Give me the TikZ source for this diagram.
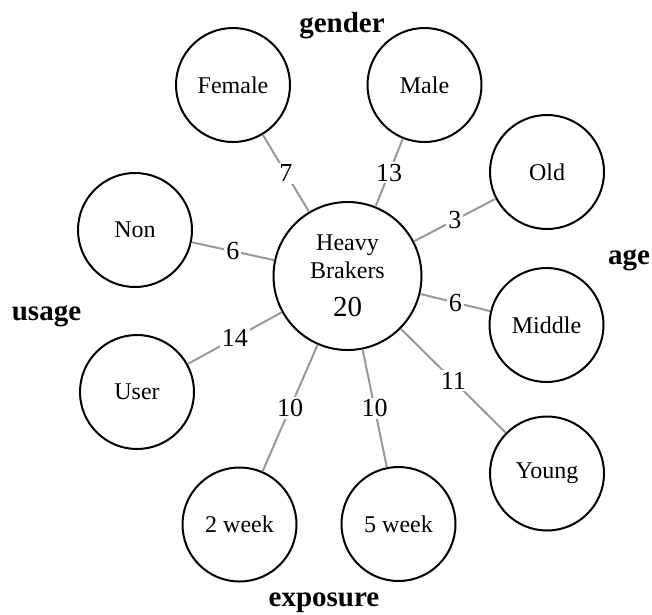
\documentclass[tikz,border=0pt]{standalone}
\usepackage{fontspec}
\setmainfont{Liberation Serif}
\definecolor{edgegray}{RGB}{153,153,153}
\begin{document}
\begin{tikzpicture}[x=1pt,y=-1pt,
 cat/.style={circle,draw=black,line width=2pt,fill=white,minimum size=114pt,inner sep=0pt,font=\fontsize{24}{28}\selectfont},
 hub/.style={circle,draw=black,line width=2pt,fill=white,minimum size=148pt,inner sep=0pt,align=center,font=\fontsize{24}{28}\selectfont},
 link/.style={draw=edgegray,line width=2pt},
 num/.style={fill=white,inner sep=2pt,font=\fontsize{26}{26}\selectfont},
 group/.style={anchor=base,font=\fontsize{29}{29}\selectfont\bfseries}]
\useasboundingbox (0,0) rectangle (652,614);
\node[hub] (hb) at (347.5,276) {Heavy\\Brakers\\[10pt]{\fontsize{29}{29}\selectfont 20}};
\node[cat] (female) at (233,85) {Female};
\node[cat] (male) at (424.5,85) {Male};
\node[cat] (old) at (547,172) {Old};
\node[cat] (middle) at (546.5,325) {Middle};
\node[cat] (young) at (547,473.5) {Young};
\node[cat] (w5) at (398.5,524) {5 week};
\node[cat] (w2) at (239.5,524.5) {2 week};
\node[cat] (user) at (137,392) {User};
\node[cat] (non) at (135,230) {Non};
\path[link] (hb) -- node[num] {7} (female);
\path[link] (hb) -- node[num] {13} (male);
\path[link] (hb) -- node[num] {3} (old);
\path[link] (hb) -- node[num] {6} (middle);
\path[link] (hb) -- node[num] {11} (young);
\path[link] (hb) -- node[num] {10} (w5);
\path[link] (hb) -- node[num] {10} (w2);
\path[link] (hb) -- node[num] {14} (user);
\path[link] (hb) -- node[num] {6} (non);
\node[group] (g1) at (342,32) {gender};
\node[group] (g2) at (629,264) {age};
\node[group] (g3) at (46.5,320) {usage};
\node[group] (g4) at (324,606.5) {exposure};
\end{tikzpicture}
\end{document}
